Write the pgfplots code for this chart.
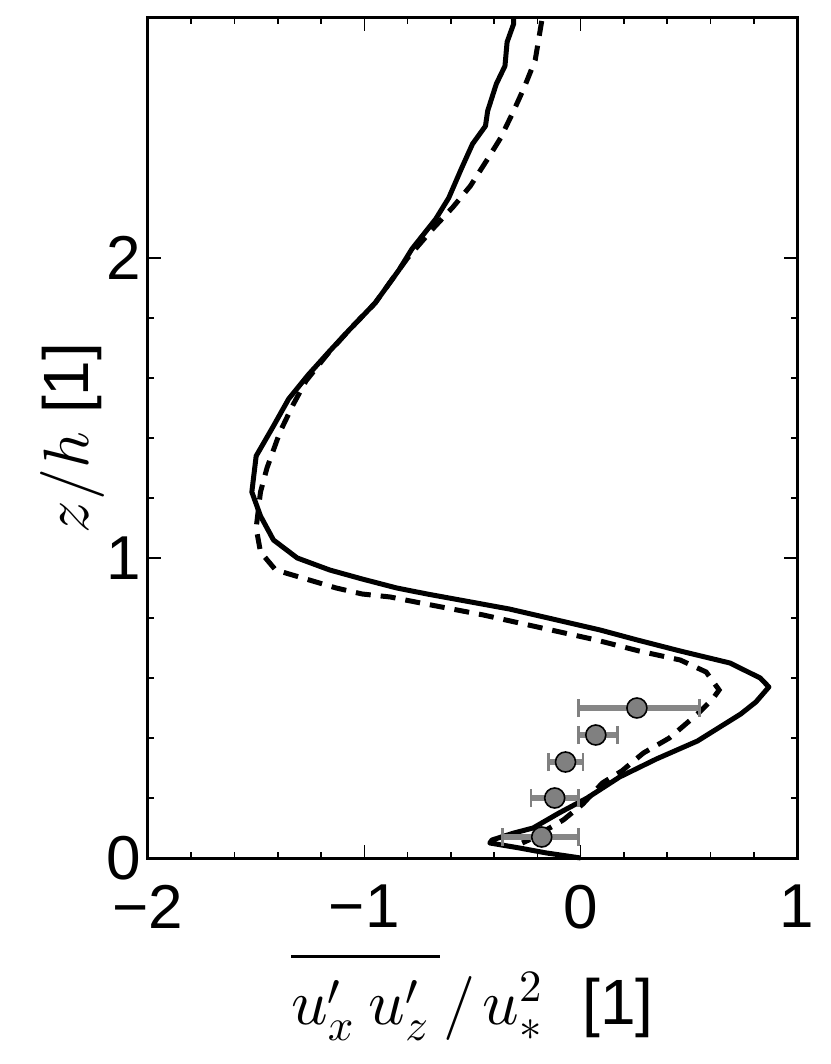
\documentclass[border=0pt]{standalone}
\usepackage{pgfplots}
\pgfplotsset{compat=1.18}
\usepackage[no-math]{fontspec}
\setmainfont{Liberation Sans}
\DeclareFontShape{OML}{cmm}{m}{it}{<->cmmi10}{}
\DeclareFontShape{OMS}{cmsy}{m}{n}{<->cmsy10}{}
\DeclareFontShape{OT1}{cmr}{m}{n}{<->cmr10}{}
\DeclareFontShape{OMX}{cmex}{m}{n}{<->cmex10}{}
\begin{document}
\begin{tikzpicture}
\begin{axis}[
  name=ax,
  scale only axis, width=324.5pt, height=420pt,
  xmin=-2, xmax=1, ymin=0, ymax=2.8,
  xtick={-2,-1,0,1}, xticklabels={−2,−1,0,1},
  ytick={0,1,2}, yticklabels={0,1,2},
  minor x tick num=4, minor y tick num=4,
  tick align=inside,
  major tick length=6.5pt, minor tick length=3.2pt,
  axis line style={line width=1.5pt},
  every tick/.style={black, line width=0.8pt},
  tick label style={font=\fontsize{31}{33}\selectfont},
  xticklabel style={yshift=-10pt},
  label style={font=\fontsize{32}{34}\selectfont},
  xlabel={$\overline{\rule{0pt}{0.92em}u'_x\mskip4mu u'_z\mskip3mu}\mskip1mu/\mskip2mu u_*^2$\hspace{20pt}[1]},
  ylabel={$z/h$ [1]},
  xlabel shift=5pt,
  ylabel shift=-6pt,
  clip=false,
]
\addplot[black, line width=2.5pt, line join=round] coordinates {
(-0.31,2.80) (-0.31,2.78) (-0.34,2.72) (-0.35,2.64) (-0.39,2.58) (-0.43,2.49)
(-0.44,2.44) (-0.50,2.38) (-0.55,2.30) (-0.61,2.20) (-0.67,2.13) (-0.78,2.03)
(-0.84,1.96) (-0.95,1.85) (-1.07,1.76) (-1.16,1.69) (-1.26,1.61) (-1.35,1.53)
(-1.42,1.44) (-1.50,1.34) (-1.52,1.22) (-1.48,1.14) (-1.42,1.06) (-1.31,1.00)
(-1.16,0.96) (-1.01,0.93) (-0.85,0.90) (-0.71,0.88) (-0.52,0.855) (-0.33,0.83)
(0.09,0.76) (0.26,0.727) (0.46,0.69) (0.69,0.65) (0.83,0.60) (0.87,0.57)
(0.81,0.52) (0.74,0.48) (0.54,0.39) (0.35,0.33) (0.18,0.27) (0.03,0.20)
(-0.10,0.15) (-0.22,0.10) (-0.31,0.083) (-0.41,0.06) (-0.42,0.05) (-0.28,0.033)
(-0.16,0.017) (0,0)
};
\addplot[black, line width=2.5pt, dash pattern=on 7.5pt off 5pt] coordinates {
(-0.18,2.79) (-0.21,2.66) (-0.26,2.57) (-0.31,2.49) (-0.37,2.40) (-0.43,2.33)
(-0.51,2.24) (-0.59,2.17) (-0.68,2.10) (-0.80,2.00) (-0.86,1.94) (-0.95,1.85)
(-1.07,1.76) (-1.17,1.68) (-1.27,1.59) (-1.33,1.51) (-1.39,1.42) (-1.45,1.30)
(-1.48,1.22) (-1.50,1.10) (-1.48,1.02) (-1.41,0.96) (-1.27,0.93) (-1.13,0.90)
(-1.01,0.88) (-0.88,0.87) (-0.74,0.85) (-0.45,0.81) (-0.20,0.77) (0.07,0.727)
(0.27,0.69) (0.46,0.66) (0.58,0.62) (0.64,0.56) (0.61,0.53) (0.54,0.48)
(0.41,0.40) (0.29,0.35) (0.19,0.29) (0.10,0.25) (0.01,0.18) (-0.08,0.127)
(-0.16,0.093) (-0.24,0.06) (-0.27,0.05)
};
\addplot[only marks, mark=*, mark size=5pt,
  mark options={fill=gray, draw=black, line width=0.8pt},
  error bars/.cd, x dir=both, x explicit,
  error mark=|,
  error bar style={line width=2.6pt, color=gray!95},
  error mark options={line width=1.3pt, color=gray, mark size=4.5pt}]
  table[x=x, y=y, x error plus=ep, x error minus=em] {
x y ep em
0.26 0.50 0.29 0.27
0.07 0.41 0.10 0.08
-0.07 0.32 0.08 0.08
-0.12 0.20 0.11 0.11
-0.18 0.07 0.17 0.18
};
\end{axis}
\pgfresetboundingbox
\path (ax.south west) +(-74pt,-103pt) (ax.north east) +(16.5pt,9pt);
\end{tikzpicture}
\end{document}
